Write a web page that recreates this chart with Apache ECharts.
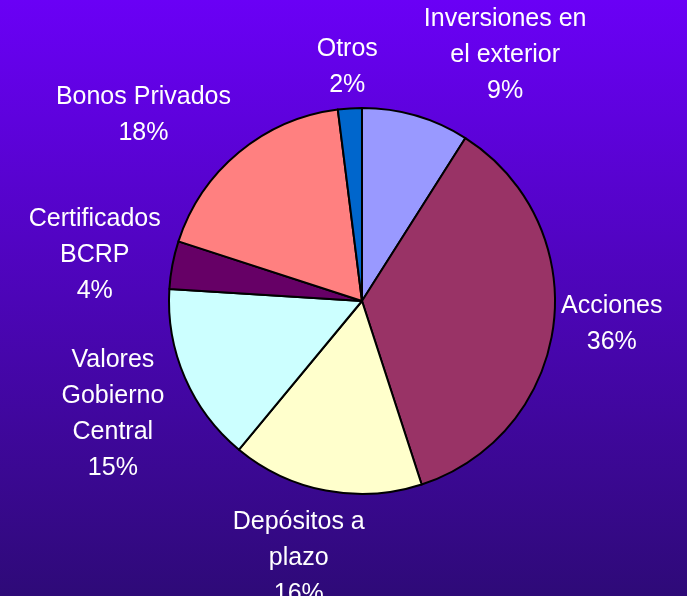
<!DOCTYPE html>
<html>
<head>
<meta charset="utf-8">
<script src="https://cdn.jsdelivr.net/npm/echarts@6/dist/echarts.min.js"></script>
<style>
  html, body { margin: 0; padding: 0; }
  #chart { width: 687px; height: 596px; }
</style>
</head>
<body>
<div id="chart"></div>
<script>
// categorias y porcentajes de la cartera
const categories = [
    'Inversiones en\nel exterior',
    'Acciones',
    'Depósitos a\nplazo',
    'Valores\nGobierno\nCentral',
    'Certificados\nBCRP',
    'Bonos Privados',
    'Otros'
]
const shares = [9, 36, 16, 15, 4, 18, 2]
const colors = ['#9999ff', '#993366', '#ffffcc', '#ccffff', '#660066', '#ff8080', '#0066cc']

const cx = 362
const cy = 301
const radius = 193
const labelGap = 4
// giro (grados) de algunas etiquetas para que no se pisen
const labelTurn = [14, -2, 3, -1, -1, -10, 0]

const total = shares.reduce((a, b) => a + b, 0)
// angulo medio de cada porcion, desde las 12 en sentido horario
const midAngles = []
let acc = 0
shares.forEach(v => {
    midAngles.push((acc + v / 2) / total * Math.PI * 2)
    acc += v
})

const chart = echarts.init(document.getElementById('chart'))
chart.setOption({
    animation: false,
    backgroundColor: new echarts.graphic.LinearGradient(0, 0, 0, 1, [
        { offset: 0, color: '#6a00f6' },
        { offset: 1, color: '#2e0a78' }
    ]),
    series: [{
        type: 'pie',
        center: [cx, cy],
        radius: radius,
        startAngle: 90,
        clockwise: true,
        data: categories.map((name, i) => ({
            name: name,
            value: shares[i],
            itemStyle: { color: colors[i] }
        })),
        itemStyle: {
            borderColor: '#000',
            borderWidth: 2
        },
        label: {
            show: true,
            position: 'outside',
            formatter: '{b}\n{c}%',
            color: '#fff',
            fontFamily: 'Liberation Sans',
            fontSize: 25,
            lineHeight: 36,
            overflow: 'none'
        },
        labelLine: { show: false },
        labelLayout: function (params) {
            const i = params.dataIndex
            const a = midAngles[i] + labelTurn[i] * Math.PI / 180
            const ux = Math.sin(a)
            const uy = -Math.cos(a)
            const w = params.labelRect.width
            const h = params.labelRect.height
            const ext = (w / 2) * Math.abs(ux) + (h / 2) * Math.abs(uy)
            const d = radius + labelGap + ext
            return {
                x: cx + ux * d,
                y: cy + uy * d,
                align: 'center',
                verticalAlign: 'middle'
            }
        },
        emphasis: { disabled: true }
    }]
})
</script>
</body>
</html>
